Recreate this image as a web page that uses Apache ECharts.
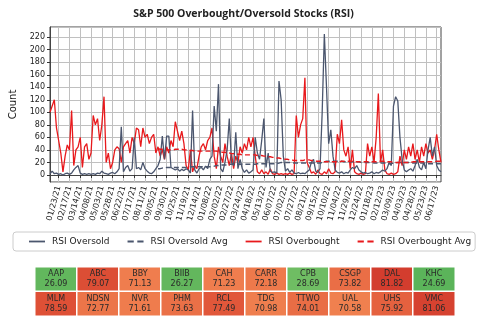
<!DOCTYPE html>
<html>
<head>
<meta charset="utf-8">
<script src="https://cdn.jsdelivr.net/npm/echarts@6/dist/echarts.min.js"></script>
<style>html,body{margin:0;padding:0;background:#fff;}#c{width:487px;height:329px;}</style>
</head>
<body>
<div id="c"></div>
<script>
// sample dates: every 5 days starting 2021-01-03
const startDate = Date.UTC(2021, 0, 3);
const stepDays = 5;
const nSamples = 182;

const tickLabels = ['01/23/21','02/17/21','03/14/21','04/08/21','05/03/21','05/28/21','06/22/21','07/17/21','08/11/21','09/05/21','09/30/21','10/25/21','11/19/21','12/14/21','01/08/22','02/02/22','02/27/22','03/24/22','04/18/22','05/13/22','06/07/22','07/02/22','07/27/22','08/21/22','09/15/22','10/10/22','11/04/22','11/29/22','12/24/22','01/18/23','02/12/23','03/09/23','04/03/23','04/28/23','05/23/23','06/17/23'];
const firstTickIndex = 4;
const tickEvery = 5;

const overbought = [
100,110,120,75,55,35,5,30,48,40,
103,15,40,45,60,12,45,50,25,35,
95,80,90,55,80,125,20,35,10,20,
40,45,42,20,45,50,55,35,60,50,
75,72,45,75,60,65,50,60,65,35,
45,30,40,25,45,35,55,45,85,70,
55,70,50,15,8,40,5,15,10,30,
45,50,40,55,60,75,30,10,45,30,
20,50,30,15,35,10,30,20,45,35,
50,40,60,45,60,30,5,2,8,2,
5,1,10,2,1,3,1,2,1,2,
1,3,1,2,95,60,80,90,155,20,
12,3,5,1,8,2,1,5,2,10,
3,2,5,65,50,88,40,30,45,10,
40,5,2,1,3,1,2,50,30,45,
20,60,130,20,40,8,2,1,3,1,
2,5,30,15,40,25,45,30,50,25,
40,20,45,30,50,35,40,25,40,65,
40,20];

const oversold = [
2,6,2,3,1,2,0,2,3,1,
3,8,12,15,3,1,2,1,2,1,
2,1,3,2,6,3,2,1,3,4,
2,5,10,77,5,12,15,6,10,60,
10,12,8,20,10,6,3,2,5,10,
15,25,62,25,62,62,12,10,8,10,
6,9,7,10,8,3,103,8,3,10,
12,8,14,10,25,30,110,70,145,10,
5,20,40,90,20,15,68,10,25,10,
4,8,3,5,8,60,35,25,55,90,
12,35,6,4,5,3,150,120,30,6,
10,4,8,3,2,4,2,3,2,5,
8,20,25,6,4,10,100,225,140,50,
72,30,8,4,3,5,2,4,3,8,
12,10,15,8,5,3,4,2,3,5,
2,4,3,5,8,6,10,20,15,110,
125,118,60,25,8,5,8,10,6,15,
25,12,8,20,10,40,60,30,45,15,
8,5];

const avgStartIndex = 50;
const overboughtAvg = [
42,41,41,40,40,40,40,40,41,41,
41,41,40,40,39,39,39,38,38,38,
38,38,38,38,38,38,38,38,37,37,
36,36,35,35,34,34,33,33,33,32,
32,32,32,32,32,32,31,31,31,30,
30,29,29,28,28,27,27,26,26,25,
25,24,24,23,23,23,23,23,24,24,
24,23,23,22,22,22,21,21,21,21,
21,21,21,21,21,22,22,22,22,22,
22,22,21,21,21,21,21,21,21,21,
21,21,22,22,22,21,21,21,21,20,
20,20,20,20,20,20,20,20,21,21,
21,21,21,21,21,21,21,21,21,22,
22,22];
const oversoldAvg = [
10,10,11,11,12,12,12,12,12,12,
12,12,12,12,12,13,13,13,13,13,
13,13,13,13,13,14,14,15,15,16,
16,16,16,17,17,17,17,17,17,17,
17,17,17,17,17,17,18,18,18,18,
18,18,18,18,18,18,19,20,20,20,
20,20,20,19,19,19,19,19,19,19,
19,19,19,19,19,19,20,21,22,22,
22,22,22,22,22,22,21,21,21,21,
21,21,21,21,20,20,20,20,20,20,
19,19,19,19,19,19,18,18,18,19,
19,20,20,20,20,20,20,19,19,19,
19,19,19,19,18,18,18,18,18,18,
18,18];

const tickers = [
  ['AAP','ABC','BBY','BIIB','CAH','CARR','CPB','CSGP','DAL','KHC'],
  ['MLM','NDSN','NVR','PHM','RCL','TDG','TTWO','UAL','UHS','VMC']
];
const rsiValues = [
  [26.09,79.07,71.13,26.27,71.23,72.18,28.69,73.82,81.82,24.69],
  [78.59,72.77,71.61,73.63,77.49,70.98,74.01,70.58,75.92,81.06]
];

// build category axis dates
function fmt(d){const m=String(d.getUTCMonth()+1).padStart(2,'0');const dd=String(d.getUTCDate()).padStart(2,'0');const y=String(d.getUTCFullYear()).slice(2);return m+'/'+dd+'/'+y;}
const categories=[];
for(let i=0;i<nSamples;i++){categories.push(fmt(new Date(startDate+i*stepDays*86400000)));}
function pad(arr){const out=[];for(let i=0;i<avgStartIndex;i++)out.push(null);return out.concat(arr);}
const isTick=(idx)=> idx>=firstTickIndex && (idx-firstTickIndex)%tickEvery===0;

const heatData=[];
for(let r=0;r<2;r++)for(let c=0;c<10;c++)heatData.push([c,r,rsiValues[r][c]]);

const DARK='#4b566e', RED='#e8191c';
const SOLID='path://M0 0H18V2H0Z';
const DASHED='path://M0 0H7V2H0Z M11 0H18V2H11Z';
const chart=echarts.init(document.getElementById('c'),null,{renderer:'canvas'});
chart.setOption({
  animation:false,
  backgroundColor:'#fff',
  title:{text:'S&P 500 Overbought/Oversold Stocks (RSI)',left:'center',top:4,
    textStyle:{fontFamily:'Open Sans',fontWeight:'bold',fontSize:10.5,color:'#222'}},
  grid:[
    {left:50,top:27,width:391,height:155,show:true,borderColor:'#444',borderWidth:1},
    {left:35,top:267,width:420,height:49}
  ],
  legend:{
    data:[
      {name:'RSI Oversold',icon:SOLID,itemStyle:{color:DARK}},
      {name:'RSI Oversold Avg',icon:DASHED,itemStyle:{color:DARK}},
      {name:'RSI Overbought',icon:SOLID,itemStyle:{color:RED}},
      {name:'RSI Overbought Avg',icon:DASHED,itemStyle:{color:RED}}
    ],
    left:13,top:232,width:470,itemWidth:16,itemHeight:2,itemGap:18,
    padding:[5,4,5,16],borderColor:'#ccc',borderWidth:1,borderRadius:3,
    textStyle:{fontFamily:'DejaVu Sans',fontSize:9,color:'#222',padding:[0,0,0,2]}
  },
  xAxis:[
    {type:'category',gridIndex:0,data:categories,boundaryGap:false,
      axisLine:{show:true,lineStyle:{color:'#444'}},
      axisTick:{show:true,interval:(i)=>isTick(i),length:3,lineStyle:{color:'#333'}},
      splitLine:{show:true,interval:(i)=>isTick(i),lineStyle:{color:'#c0c0c0',width:1}},
      axisLabel:{interval:(i)=>isTick(i),rotate:75,fontSize:8,fontFamily:'DejaVu Sans',color:'#222',margin:4,
        formatter:(v,i)=>tickLabels[(i-firstTickIndex)/tickEvery]||v}},
    {type:'category',gridIndex:1,data:[0,1,2,3,4,5,6,7,8,9],show:false}
  ],
  yAxis:[
    {type:'value',gridIndex:0,min:-11.25,max:236.25,minInterval:20,maxInterval:20,splitNumber:12,
      name:'Count',nameLocation:'middle',nameGap:26,nameTextStyle:{fontFamily:'DejaVu Sans',fontSize:10,color:'#222'},
      axisLine:{show:true,lineStyle:{color:'#444'}},
      axisTick:{show:true,length:3,lineStyle:{color:'#333'}},
      splitLine:{show:true,lineStyle:{color:'#c0c0c0',width:1}},
      axisLabel:{fontSize:8,fontFamily:'DejaVu Sans',color:'#222',margin:5,showMinLabel:false,showMaxLabel:false}},
    {type:'category',gridIndex:1,data:[0,1],inverse:true,show:false}
  ],
  visualMap:{show:false,type:'continuous',seriesIndex:4,min:24,max:84,
    inRange:{color:['#58b258','#76c066','#a8cf6a','#d6d970','#f5d675','#f8bb6e','#f7a064','#f6925a','#ee7a4c','#e05438','#cc3028']}},
  series:[
    {name:'RSI Oversold',type:'line',data:oversold,showSymbol:false,symbol:'none',lineStyle:{color:DARK,width:1.3},itemStyle:{color:DARK},z:3},
    {name:'RSI Oversold Avg',type:'line',data:pad(oversoldAvg),showSymbol:false,symbol:'none',lineStyle:{color:DARK,width:1.4,type:[5,3]},itemStyle:{color:DARK},z:4},
    {name:'RSI Overbought',type:'line',data:overbought,showSymbol:false,symbol:'none',lineStyle:{color:RED,width:1.3},itemStyle:{color:RED},z:2},
    {name:'RSI Overbought Avg',type:'line',data:pad(overboughtAvg),showSymbol:false,symbol:'none',lineStyle:{color:RED,width:1.4,type:[5,3]},itemStyle:{color:RED},z:4},
    {type:'heatmap',xAxisIndex:1,yAxisIndex:1,data:heatData,
      itemStyle:{borderColor:'#fff',borderWidth:1.5},
      label:{show:true,fontFamily:'DejaVu Sans',fontSize:8,lineHeight:10,color:'#2a2a2a',
        formatter:(p)=>tickers[p.data[1]][p.data[0]]+'\n'+p.data[2].toFixed(2)}}
  ]
});
</script>
</body>
</html>
